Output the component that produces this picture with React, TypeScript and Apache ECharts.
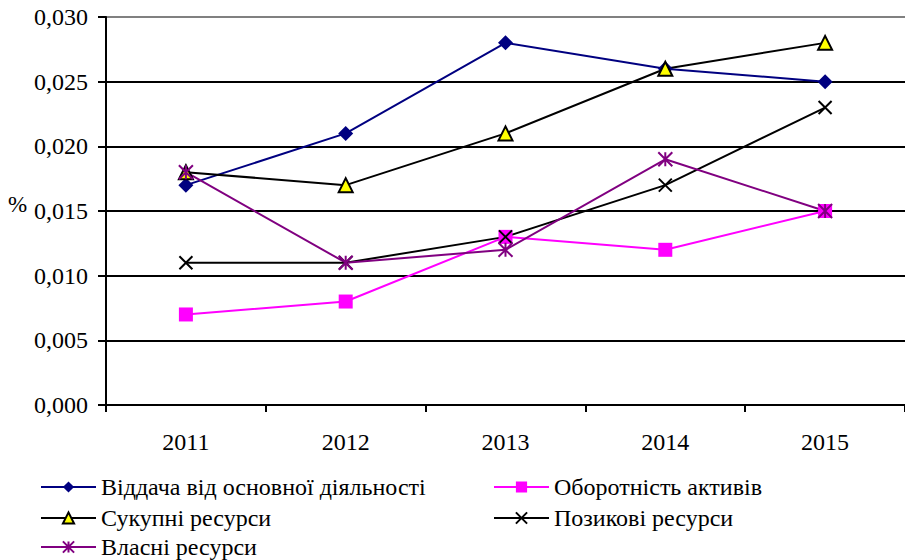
import React, { useEffect, useRef } from "react";
import * as echarts from "echarts";

const categories = ["2011", "2012", "2013", "2014", "2015"];
const yTicks = { min: 0, max: 0.03, interval: 0.005 };

const names = [
  "Віддача від основної діяльності",
  "Оборотність активів",
  "Сукупні ресурси",
  "Позикові ресурси",
  "Власні ресурси",
];
const viddacha = [0.017, 0.021, 0.028, 0.026, 0.025];
const oborotnist = [0.007, 0.008, 0.013, 0.012, 0.015];
const sukupni = [0.018, 0.017, 0.021, 0.026, 0.028];
const pozykovi = [0.011, 0.011, 0.013, 0.017, 0.023];
const vlasni = [0.018, 0.011, 0.012, 0.019, 0.015];

const FONT = "Liberation Serif";

export default function App() {
  const ref = useRef<HTMLDivElement>(null);
  useEffect(() => {
    if (!ref.current) return;
    const chart = echarts.init(ref.current, undefined, { renderer: "svg" });
    const xPath = "path://M0,0L10,10M10,0L0,10";
    const starPath = "path://M5,0L5,10M0,0L10,10M10,0L0,10";
    const legendPos = [
      { left: 40, top: 475 },
      { left: 493, top: 475 },
      { left: 40, top: 506 },
      { left: 493, top: 506 },
      { left: 40, top: 535 },
    ];
    const option: any = {
      animation: false,
      backgroundColor: "#fff",
      textStyle: { fontFamily: FONT },
      grid: { left: 106, top: 17, right: -5, bottom: 155, containLabel: false },
      xAxis: {
        type: "category",
        data: categories,
        boundaryGap: true,
        axisLine: { show: true, lineStyle: { color: "#000", width: 2 } },
        axisTick: { show: true, inside: false, length: 7, lineStyle: { color: "#000", width: 2 } },
        axisLabel: { color: "#000", fontSize: 24, fontFamily: FONT, margin: 25 },
        splitLine: { show: false },
      },
      yAxis: {
        type: "value",
        min: yTicks.min,
        max: yTicks.max,
        interval: yTicks.interval,
        axisLine: { show: true, lineStyle: { color: "#000", width: 2 } },
        axisTick: { show: true, inside: false, length: 8, lineStyle: { color: "#000", width: 2 } },
        axisLabel: {
          color: "#000",
          fontSize: 24,
          fontFamily: FONT,
          margin: 18,
          formatter: (v: number) => v.toFixed(3).replace(".", ","),
        },
        splitLine: {
          show: true,
          lineStyle: {
            color: ["#000", "#000", "#000", "#000", "#000", "#000", "#808080"],
            width: 2,
          },
        },
      },
      graphic: [
        {
          type: "text",
          left: 8,
          top: 193,
          style: { text: "%", fontSize: 23, fontFamily: FONT, fill: "#000" },
        },
      ],
      legend: names.map((n, i) => ({
        data: [n],
        left: legendPos[i].left,
        top: legendPos[i].top,
        itemWidth: 55,
        itemHeight: 14,
        padding: 0,
        textStyle: { fontSize: 24, fontFamily: FONT, color: "#000" },
      })),
      series: [
        {
          name: names[0],
          type: "line",
          data: viddacha,
          symbol: "diamond",
          symbolSize: 15,
          lineStyle: { color: "#000080", width: 2 },
          itemStyle: { color: "#000080" },
        },
        {
          name: names[1],
          type: "line",
          data: oborotnist,
          symbol: "rect",
          symbolSize: 14,
          lineStyle: { color: "#FF00FF", width: 2 },
          itemStyle: { color: "#FF00FF" },
        },
        {
          name: names[2],
          type: "line",
          data: sukupni,
          symbol: "triangle",
          symbolSize: 14,
          lineStyle: { color: "#000", width: 2 },
          itemStyle: { color: "#FFFF00", borderColor: "#000", borderWidth: 2 },
        },
        {
          name: names[3],
          type: "line",
          data: pozykovi,
          symbol: xPath,
          symbolSize: 13,
          lineStyle: { color: "#000", width: 2 },
          itemStyle: { color: "none", borderColor: "#000", borderWidth: 2 },
        },
        {
          name: names[4],
          type: "line",
          data: vlasni,
          symbol: starPath,
          symbolSize: 14,
          lineStyle: { color: "#800080", width: 2 },
          itemStyle: { color: "none", borderColor: "#800080", borderWidth: 2 },
        },
      ],
    };
    chart.setOption(option);
    return () => chart.dispose();
  }, []);
  return (
    <div
      ref={ref}
      style={{ position: "absolute", left: 0, top: 0, width: 905, height: 560, overflow: "hidden" }}
    />
  );
}
